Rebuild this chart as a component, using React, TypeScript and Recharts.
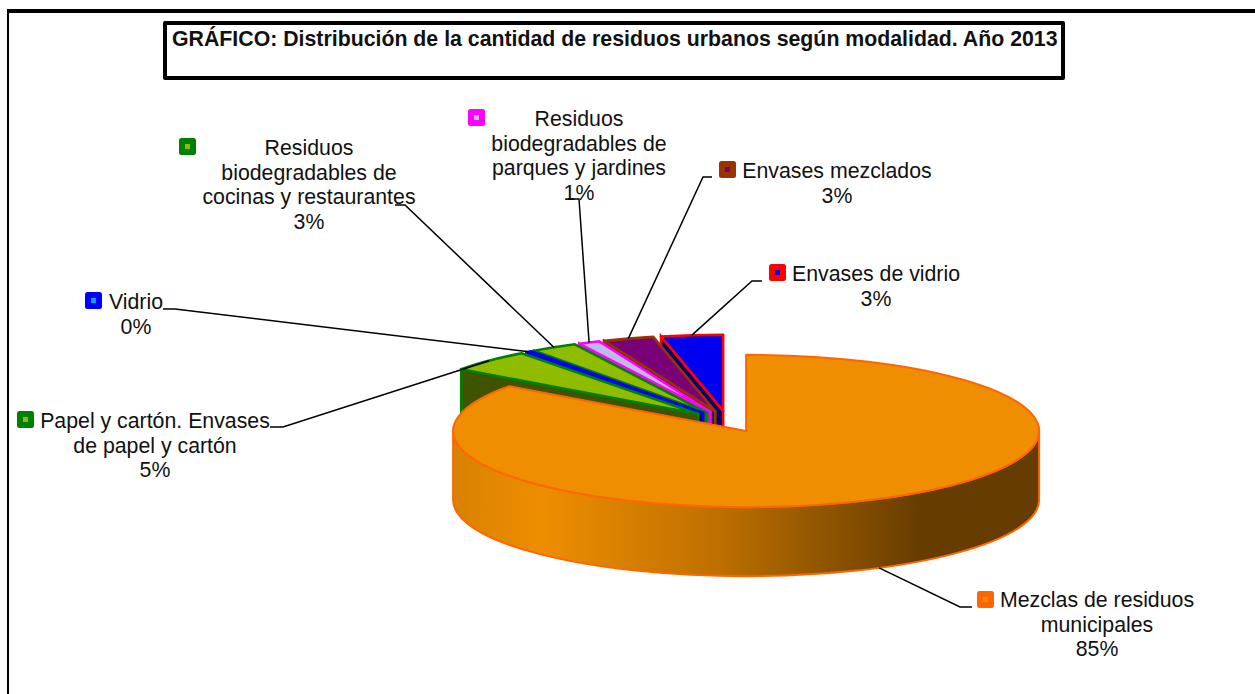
import { PieChart, Pie } from "recharts"

// Listed right to left (counter-clockwise from 12 o'clock) so the big slice paints last
const CATEGORIES = [
  "Envases de vidrio",
  "Envases mezclados",
  "Residuos biodegradables de parques y jardines",
  "Residuos biodegradables de cocinas y restaurantes",
  "Vidrio",
  "Papel y cartón. Envases de papel y cartón",
  "Mezclas de residuos municipales",
]
const VALUES = [3.4, 2.8, 1.2, 2.6, 0.3, 4.7, 85]

const LABEL_LINES = [
  ["Envases de vidrio"],
  ["Envases mezclados"],
  ["Residuos", "biodegradables de", "parques y jardines"],
  ["Residuos", "biodegradables de", "cocinas y restaurantes"],
  ["Vidrio"],
  ["Papel y cartón. Envases", "de papel y cartón"],
  ["Mezclas de residuos", "municipales"],
]

const TITLE = "GRÁFICO: Distribución de la cantidad de residuos urbanos según modalidad. Año 2013"

const TOP_FILL = ["#0000F0", "#7A0078", "#BCBCE8", "#90BC00", "#0000F0", "#90BC00", "#EE8E00"]
const WALL_FILL = ["#000070", "#38003A", "#55557A", "#3F5400", "#000070", "#3F5400", "url(#orangeWall)"]
const EDGE = ["#FF0000", "#993300", "#FF00FF", "#008000", "#0000FF", "#008000", "#FF6600"]
const KEY_INNER = ["#0000F0", "#7A0078", "#BCBCE8", "#90BC00", "#00AAFF", "#90BC00", "#EE8E00"]

// text centre, first line y, key corner, leader elbow and end
const LABEL_BOX = [
  { tx: 876, ty: 274, kx: 769, ky: 264, ex: 752, ey: 281, fx: 762 },
  { tx: 837, ty: 171, kx: 719, ky: 161, ex: 703, ey: 177, fx: 712 },
  { tx: 579, ty: 119, kx: 468, ky: 109, ex: 579, ey: 199, fx: 568 },
  { tx: 309, ty: 148, kx: 179, ky: 138, ex: 405, ey: 205, fx: 395 },
  { tx: 136, ty: 302, kx: 85, ky: 292, ex: 175, ey: 309, fx: 163 },
  { tx: 155, ty: 421, kx: 17, ky: 411, ex: 283, ey: 427, fx: 270 },
  { tx: 1097, ty: 600, kx: 977, ky: 591, ex: 960, ey: 607, fx: 972 },
]

const W = 1255
const H = 694
const CX = 727.5
const CY = 421.5
const RX = 293
const SQUASH = 0.26
const DEPTH = 69
const EXPLODE = 41
const LINE_H = 24.7
const FONT_SIZE = 21.3

const rad = (d: number) => (d * Math.PI) / 180

function explodedCentre(cx: number, cy: number, midAngle: number) {
  return {
    x: cx + EXPLODE * Math.cos(rad(midAngle)),
    y: cy - EXPLODE * SQUASH * Math.sin(rad(midAngle)),
  }
}

function rim(c: { x: number; y: number }, r: number, angle: number) {
  return {
    x: c.x + r * Math.cos(rad(angle)),
    y: c.y - r * SQUASH * Math.sin(rad(angle)),
  }
}

// One flat-projected slice: cut face, outer wall, then the top
function Slice3D(props: any) {
  const { cx, cy, outerRadius: r, startAngle, endAngle, midAngle, index } = props
  const a0 = Math.min(startAngle, endAngle)
  const a1 = Math.max(startAngle, endAngle)
  const c = explodedCentre(cx, cy, midAngle)
  const p0 = rim(c, r, a0)
  const p1 = rim(c, r, a1)
  const ry = r * SQUASH
  const large = a1 - a0 > 180 ? 1 : 0
  const top = `M${c.x},${c.y} L${p0.x},${p0.y} A${r},${ry} 0 ${large} 0 ${p1.x},${p1.y} Z`

  const hasWall = a0 < 360 && a1 > 180
  const left = rim(c, r, Math.max(a0, 180))
  const right = rim(c, r, Math.min(a1, 360))
  const wall = `M${left.x},${left.y} A${r},${ry} 0 0 0 ${right.x},${right.y} L${right.x},${right.y + DEPTH} A${r},${ry} 0 0 1 ${left.x},${left.y + DEPTH} Z`
  const cut = `M${p1.x},${p1.y} L${c.x},${c.y} L${c.x},${c.y + DEPTH} L${p1.x},${p1.y + DEPTH} Z`
  const edgeWidth = hasWall ? 2 : 2.6

  return (
    <g>
      {hasWall ? (
        <path d={wall} fill={WALL_FILL[index]} stroke={EDGE[index]} strokeWidth={edgeWidth} />
      ) : (
        <path d={cut} fill={WALL_FILL[index]} stroke={EDGE[index]} strokeWidth={edgeWidth} />
      )}
      <path d={top} fill={TOP_FILL[index]} stroke={EDGE[index]} strokeWidth={edgeWidth} strokeLinejoin="round" />
    </g>
  )
}

function SliceLabel(props: any) {
  const { cx, cy, outerRadius: r, midAngle, index, percent } = props
  const box = LABEL_BOX[index]
  const lines = LABEL_LINES[index]
  const c = explodedCentre(cx, cy, midAngle)
  const p = rim(c, r, midAngle)
  // front slice: the leader leaves from the bottom of the wall
  const startY = Math.sin(rad(midAngle)) < 0 ? p.y + DEPTH : p.y
  return (
    <g>
      {[...lines, `${Math.round(percent * 100)}%`].map((t, i) => (
        <text
          key={i}
          x={box.tx}
          y={box.ty + i * LINE_H}
          textAnchor="middle"
          dominantBaseline="central"
          fontFamily="Liberation Sans"
          fontSize={FONT_SIZE}
          fill="#111"
        >
          {t}
        </text>
      ))}
      <polyline
        points={`${p.x},${startY} ${box.ex},${box.ey} ${box.fx},${box.ey}`}
        fill="none"
        stroke="#000"
        strokeWidth={1.5}
      />
      <rect x={box.kx} y={box.ky} width={17} height={17} rx={2.5} fill={EDGE[index]} />
      <rect x={box.kx + 6} y={box.ky + 6} width={5} height={5} fill={KEY_INNER[index]} />
    </g>
  )
}

const rows = CATEGORIES.map((name, i) => ({ name, value: VALUES[i] }))

export default function App() {
  return (
    <div style={{ position: "absolute", left: 0, top: 0, width: W, height: H, overflow: "hidden", background: "#fff" }}>
      {/* outer frame runs off the picture on the right and bottom */}
      <div style={{ position: "absolute", left: 7, top: 9, width: W, height: H, borderLeft: "2px solid #000", borderTop: "4px solid #000" }} />
      <div
        style={{
          position: "absolute",
          left: 163,
          top: 21,
          width: 902,
          height: 59,
          boxSizing: "border-box",
          border: "4px solid #000",
          borderRadius: 2,
          fontFamily: "Liberation Sans",
          fontWeight: 700,
          fontSize: FONT_SIZE,
          lineHeight: "24px",
          paddingLeft: 5,
          paddingTop: 2,
          whiteSpace: "nowrap",
          color: "#111",
        }}
      >
        {TITLE}
      </div>
      <PieChart width={W} height={H} style={{ position: "absolute", left: 0, top: 0 }} margin={{ top: 0, right: 0, bottom: 0, left: 0 }}>
        <defs>
          <linearGradient id="orangeWall" gradientUnits="userSpaceOnUse" x1={454} y1={0} x2={1039} y2={0}>
            <stop offset="0" stopColor="#D98200" />
            <stop offset="0.15" stopColor="#EE8E00" />
            <stop offset="0.45" stopColor="#BE7000" />
            <stop offset="0.8" stopColor="#663C00" />
            <stop offset="1" stopColor="#663C00" />
          </linearGradient>
        </defs>
        <Pie
          data={rows}
          dataKey="value"
          nameKey="name"
          cx={CX}
          cy={CY}
          innerRadius={0}
          outerRadius={RX}
          startAngle={90}
          endAngle={450}
          paddingAngle={0}
          stroke="none"
          shape={Slice3D}
          label={SliceLabel}
          labelLine={false}
          isAnimationActive={false}
        />
      </PieChart>
    </div>
  )
}
